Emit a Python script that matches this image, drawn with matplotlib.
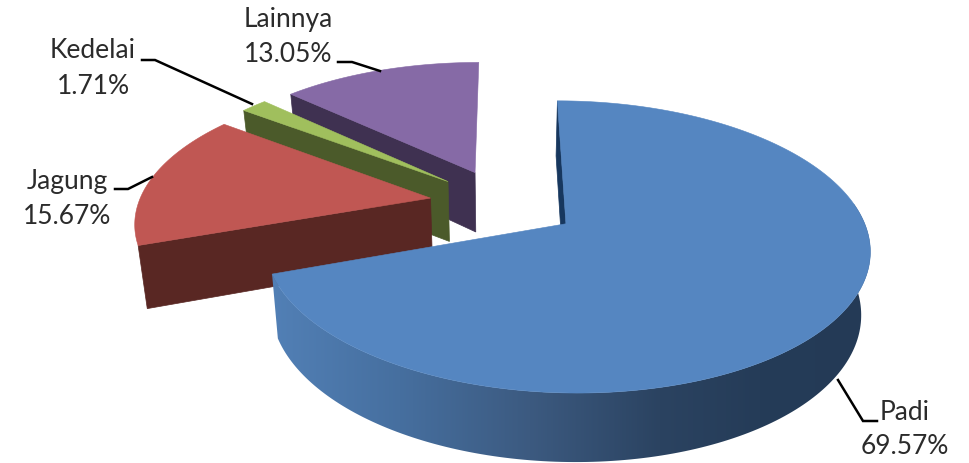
import numpy as np
import matplotlib
matplotlib.use("Agg")
import matplotlib.pyplot as plt
from matplotlib.colors import to_rgb
from matplotlib.patches import Polygon

# share of each crop, clockwise from twelve o'clock
nama = ["Padi", "Jagung", "Kedelai", "Lainnya"]
persen = [69.57, 15.67, 1.71, 13.05]

warna_atas = ["#5586C1", "#C05753", "#A0BF5D", "#866AA6"]
warna_sisi = ["#17375E", "#592723", "#4B5A2A", "#3F3151"]

# label centres and leader lines, in pixels
pos_label = [(905, 412), (67, 181), (93, 51), (288, 20)]
garis_label = [
    [(838, 380), (863, 421), (877, 421)],
    [(115, 189), (128, 189), (152, 177)],
    [(142, 60), (155, 60), (252, 104)],
    [(338, 62), (352, 62), (380, 71)],
]

# colour of the big slice's outer wall along x
grad_x = [270, 400, 530, 660, 760, 870]
grad_warna = ["#5280B6", "#466F9F", "#3C5A80", "#2B4361", "#253C58", "#243A56"]

# pie geometry
CX, CY = 503.7, 203.3
A, B = 292.0, 136.0
K = 0.155
LEDAK = 0.255


def proyeksi(u, v, z=0.0):
    # disc coordinates to pixels, z=1 is the underside of the pie
    w = 1 + K * v
    x = CX + A * u / w
    y = CY - B * v / w
    if z:
        x = CX + (x - CX) * (1 - 0.025 * z)
        y = y + z * (61 - 7 * v)
    return x, y


fig = plt.figure(figsize=(9.69, 4.63), dpi=100)
ax = fig.add_axes([0, 0, 1, 1])
ax.axis("off")

batas = np.radians(np.concatenate([[0], np.cumsum(persen)]) * 3.6)

# back slices first, the big one last
for i in [3, 2, 1, 0]:
    t0, t1 = batas[i], batas[i + 1]
    tengah = (t0 + t1) / 2
    du, dv = LEDAK * np.sin(tengah), LEDAK * np.cos(tengah)

    # flat wall along the first radial edge
    ru, rv = du + np.sin(t0), dv + np.cos(t0)
    tepi = [proyeksi(du, dv), proyeksi(ru, rv), proyeksi(ru, rv, 1), proyeksi(du, dv, 1)]
    ax.fill(*zip(*tepi), color=warna_sisi[i], lw=0.5, zorder=10 - i * 3)

    sudut = np.linspace(t0, t1, 240)
    uu = du + np.sin(sudut)
    vv = dv + np.cos(sudut)

    # curved outer wall of the big slice, gradient clipped to its outline
    if i == 0:
        depan = np.cos(sudut) < 0.15
        atas = np.column_stack(proyeksi(uu[depan], vv[depan]))
        bawah = np.column_stack(proyeksi(uu[depan], vv[depan], 1))
        garis = np.vstack([atas, bawah[::-1]])
        xs = np.linspace(260, 880, 620)
        rgb = np.array([to_rgb(c) for c in grad_warna])
        img = np.stack([np.interp(xs, grad_x, rgb[:, j]) for j in range(3)], axis=-1)[None, :, :]
        im = ax.imshow(img, extent=(260, 880, 470, 200), aspect="auto",
                       zorder=11 - i * 3, interpolation="bilinear")
        tepi_luar = Polygon(garis, closed=True, transform=ax.transData)
        im.set_clip_path(tepi_luar)

    # top face
    px, py = proyeksi(uu, vv)
    x0, y0 = proyeksi(du, dv)
    ax.fill(np.r_[x0, px], np.r_[y0, py], color=warna_atas[i], lw=0.4, zorder=12 - i * 3)

for i in range(len(nama)):
    x, y = pos_label[i]
    ax.text(x, y, nama[i], ha="center", va="center", fontsize=19, family="Lato", color="#2B2B2B")
    ax.text(x, y + 35, "%.2f%%" % persen[i], ha="center", va="center", fontsize=19,
            family="Lato", color="#2B2B2B")
    gx, gy = zip(*garis_label[i])
    ax.plot(gx, gy, color="black", lw=1.8, solid_joinstyle="miter", zorder=30)

ax.set_xlim(0, 969)
ax.set_ylim(463, 0)

fig.savefig("out.png", dpi=100)
